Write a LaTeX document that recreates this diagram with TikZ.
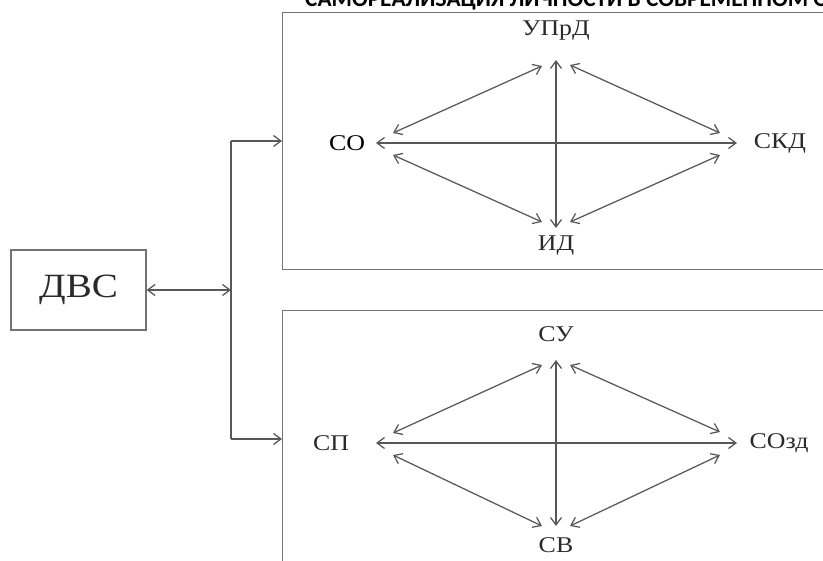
\documentclass[tikz,border=0pt]{standalone}
\usepackage{fontspec}
\setmainfont{Liberation Serif}
\newfontfamily\labelfont[FakeStretch=1.15]{Liberation Serif}
\newfontfamily\titlefont{Carlito}
\usetikzlibrary{calc,arrows.meta}
\definecolor{linegray}{HTML}{585858}
\definecolor{boxgray}{HTML}{737373}
\definecolor{labgray}{HTML}{2A2A2A}
\tikzset{
  conn/.style={draw=linegray, line width=1.25pt, {Straight Barb[length=7.5pt,width=11pt]}-{Straight Barb[length=7.5pt,width=11pt]}},
  oneway/.style={draw=linegray, line width=1.25pt, -{Straight Barb[length=7.5pt,width=11pt]}},
  plain/.style={draw=linegray, line width=1.25pt},
  panel/.style={draw=boxgray, line width=1.3pt, minimum width=560pt, anchor=north west, inner sep=0pt},
  lab/.style={font=\labelfont\fontsize{22.5}{22.5}\selectfont, text=labgray, inner sep=0pt},
}
\begin{document}
\begin{tikzpicture}[x=1pt,y=-1pt]
\clip (0,0) rectangle (823,561);
\useasboundingbox (0,0) rectangle (823,561);
% title (cut off at top)
\node[anchor=base west, inner sep=0pt, font=\titlefont\bfseries\fontsize{23.3}{23.3}\selectfont] (title) at (305,7) {САМОРЕАЛИЗАЦИЯ ЛИЧНОСТИ В СОВРЕМЕННОМ О};
% panels
\node[panel, minimum height=257pt] (topbox) at (282,12) {};
\node[panel, minimum height=270pt] (botbox) at (282,310) {};
% DVS box
\node[draw=boxgray, line width=1.2pt, minimum width=135pt, minimum height=80pt, inner sep=0pt,
      font=\labelfont\fontsize{34}{34}\selectfont, text=labgray] (dvs) at (78.5,290) {ДВС};
\coordinate (J) at (231,290);
\coordinate (Jt) at (231,141);
\coordinate (Jb) at (231,439);
\draw[conn] (dvs.east) -- (J);
\draw[plain] (Jt) -- (Jb);
\draw[oneway] (Jt) -- (topbox.west |- Jt);
\draw[oneway] (Jb) -- (botbox.west |- Jb);
% top diamond
\node[lab, text=black] (co) at (347,143) {СО};
\node[lab] (uprd) at (556,31) {УПрД};
\node[lab] (skd) at (780,143) {СКД};
\node[lab] (id) at (556,246) {ИД};
\draw[conn] ($(co)+(29,0)$) -- ($(skd)+(-43,0)$);
\draw[conn] ($(uprd)+(0,29)$) -- ($(id)+(0,-18)$);
\draw[conn] ($(co)+(46,-10)$) -- ($(uprd)+(-14,35)$);
\draw[conn] ($(uprd)+(14,34)$) -- ($(skd)+(-60,-10)$);
\draw[conn] ($(co)+(46,12)$) -- ($(id)+(-14,-24)$);
\draw[conn] ($(id)+(14,-24)$) -- ($(skd)+(-60,12)$);
% bottom diamond
\node[lab] (sp) at (331,443) {СП};
\node[lab] (su) at (556,334) {СУ};
\node[lab] (sozd) at (779,443) {СОзд};
\node[lab] (sv) at (556,545) {СВ};
\draw[conn] ($(sp)+(45,0)$) -- ($(sozd)+(-42,0)$);
\draw[conn] ($(su)+(0,26)$) -- ($(sv)+(0,-19)$);
\draw[conn] ($(sp)+(62,-10)$) -- ($(su)+(-14,31)$);
\draw[conn] ($(su)+(14,31)$) -- ($(sozd)+(-59,-11)$);
\draw[conn] ($(sp)+(62,12)$) -- ($(sv)+(-14,-19)$);
\draw[conn] ($(sv)+(14,-19)$) -- ($(sozd)+(-59,12)$);
\end{tikzpicture}
\end{document}
